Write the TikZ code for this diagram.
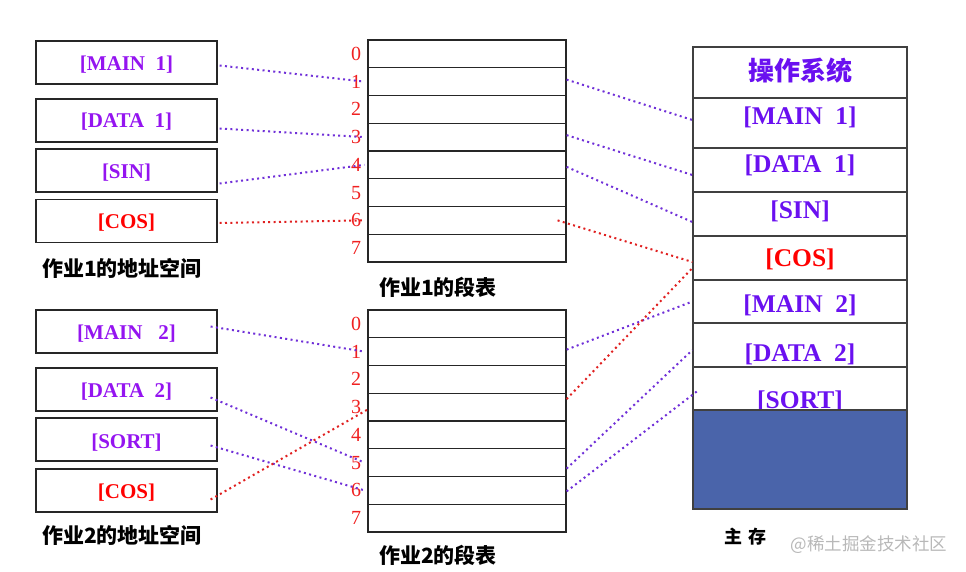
\documentclass[tikz,border=0pt]{standalone}
\usepackage{fontspec}
\setmainfont{Liberation Serif}
\newfontfamily\cjk{Noto Sans CJK SC}
\usetikzlibrary{calc}
\definecolor{lpurple}{HTML}{9414F0}
\definecolor{mpurple}{HTML}{6A10F0}
\definecolor{linep}{HTML}{7030D8}
\definecolor{liner}{HTML}{E02020}
\definecolor{numred}{HTML}{F02020}
\definecolor{memblue}{HTML}{4A64AA}
\definecolor{wmgray}{HTML}{B8B8B8}
\tikzset{
  asbox/.style={draw=black!85, line width=1.2pt, minimum width=181pt, minimum height=43pt, inner sep=0pt},
  astext/.style={font=\bfseries\fontsize{21}{22}\selectfont, text=lpurple, inner sep=0pt},
  cell/.style={draw=black!85, line width=1.2pt, minimum width=198pt, minimum height=27.75pt, inner sep=0pt},
  num/.style={font=\fontsize{20}{20}\selectfont, text=numred, inner sep=0pt},
  mem/.style={draw=black!75, line width=1.2pt, minimum width=214pt, inner sep=0pt},
  memtext/.style={font=\bfseries\fontsize{25.5}{26}\selectfont, text=mpurple, inner sep=0pt},
  lab/.style={font=\cjk\bfseries\fontsize{21}{22}\selectfont, text=black, inner sep=0pt},
  pl/.style={draw=linep, line width=2pt, dash pattern=on 2pt off 3.4pt},
  rl/.style={draw=liner, line width=2pt, dash pattern=on 2pt off 3.4pt},
}
\begin{document}
\begin{tikzpicture}[x=1pt,y=-1pt]
\useasboundingbox (0,0) rectangle (966,572);
% job 1 address space
\node[asbox] (a1m) at (126.5,62.5) {};
\node[asbox] (a1d) at (126.5,120.5) {};
\node[asbox] (a1s) at (126.5,170.5) {};
\node[asbox] (a1c) at (126.5,221) {};
\node[astext] (a1mt) at (126.5,65) {[MAIN\ \ 1]};
\node[astext] (a1dt) at (126.5,122) {[DATA\ \ 1]};
\node[astext] (a1st) at (126.5,173) {[SIN]};
\node[astext, text=red] (a1ct) at (126.5,223) {[COS]};
\node[lab] (l1) at (122,268) {作业1的地址空间};
% job 2 address space
\node[asbox] (a2m) at (126.5,331.5) {};
\node[asbox] (a2d) at (126.5,389.5) {};
\node[asbox] (a2s) at (126.5,439.5) {};
\node[asbox] (a2c) at (126.5,490.5) {};
\node[astext] (a2mt) at (126.5,334) {[MAIN\ \ \ 2]};
\node[astext] (a2dt) at (126.5,392) {[DATA\ \ 2]};
\node[astext] (a2st) at (126.5,443) {[SORT]};
\node[astext, text=red] (a2ct) at (126.5,493) {[COS]};
\node[lab] (l2) at (122,535) {作业2的地址空间};
% segment tables
\foreach \i in {0,...,7} {
  \node[cell] (t1r\i) at (467,{40+13.875+27.75*\i}) {};
  \node[num] (n1\i) at (356,{40+13.875+27.75*\i}) {\i};
  \node[cell] (t2r\i) at (467,{310+13.875+27.75*\i}) {};
  \node[num] (n2\i) at (356,{310+13.875+27.75*\i}) {\i};
}
\node[lab] (l3) at (438,287) {作业1的段表};
\node[lab] (l4) at (438,555) {作业2的段表};
% main memory
\node[mem, minimum height=51pt] (mos) at (800,72.5) {};
\node[mem, minimum height=50pt] (mm1) at (800,123) {};
\node[mem, minimum height=44pt] (md1) at (800,170) {};
\node[mem, minimum height=44pt] (ms) at (800,214) {};
\node[mem, minimum height=44pt] (mc) at (800,258) {};
\node[mem, minimum height=43pt] (mm2) at (800,301.5) {};
\node[mem, minimum height=44pt] (md2) at (800,345) {};
\node[mem, minimum height=43pt] (mso) at (800,388.5) {};
\node[memtext, font=\cjk\bfseries\fontsize{26}{26}\selectfont] (most) at (800,71) {操作系统};
\node[memtext] (mm1t) at (800,117.5) {[MAIN\ \ 1]};
\node[memtext] (md1t) at (800,165.5) {[DATA\ \ 1]};
\node[memtext] (mst) at (800,211) {[SIN]};
\node[memtext, text=red] (mct) at (800,259.5) {[COS]};
\node[memtext] (mm2t) at (800,305.5) {[MAIN\ \ 2]};
\node[memtext] (md2t) at (800,354) {[DATA\ \ 2]};
\node[memtext] (msot) at (800,401) {[SORT]};
\node[mem, minimum height=99pt, fill=memblue] (mfree) at (800,459.5) {};
\node[font=\cjk\bfseries\fontsize{18}{18}\selectfont, inner sep=0pt] (l5) at (745,537) {主\,\,存};
\node[font=\cjk\fontsize{17.5}{18}\selectfont, text=wmgray, inner sep=0pt] (wm) at (869,545) {@稀土掘金技术社区};
% job 1 connectors
\draw[pl] ($(a1m.east)+(2,3)$) -- ($(t1r1.west)+(-3,0)$);
\draw[pl] ($(a1d.east)+(2,8)$) -- ($(t1r3.west)+(-3,0)$);
\draw[pl] ($(a1s.east)+(2,13)$) -- ($(t1r4.west)+(-3,0)$);
\draw[rl] ($(a1c.east)+(2,2)$) -- ($(t1r6.west)+(-3,0)$);
\draw[pl] ($(t1r1.east)+(0,-2)$) -- ($(mm1.west)+(0,-3)$);
\draw[pl] ($(t1r3.east)+(0,-2)$) -- ($(md1.west)+(0,5)$);
\draw[pl] ($(t1r4.east)+(0,2)$) -- ($(ms.west)+(0,8)$);
\draw[rl] ($(t1r6.east)+(-9,0)$) -- ($(mc.west)+(0,4)$);
% job 2 connectors
\draw[pl] ($(a2m.east)+(-7,-5)$) -- ($(t2r1.west)+(-3,0)$);
\draw[pl] ($(a2d.east)+(-7,8)$) -- ($(t2r5.west)+(-3,0)$);
\draw[pl] ($(a2s.east)+(-7,6)$) -- ($(t2r6.west)+(-3,0)$);
\draw[rl] ($(a2c.east)+(-7,9)$) -- ($(t2r3.north west)+(0,17)$);
\draw[pl] ($(t2r1.east)+(0,-2)$) -- ($(mm2.west)+(0,0)$);
\draw[rl] ($(t2r3.east)+(0,-8)$) -- ($(mc.west)+(0,10)$);
\draw[pl] ($(t2r5.east)+(0,6)$) -- ($(md2.west)+(0,5)$);
\draw[pl] ($(t2r6.east)+(0,1)$) -- ($(mso.west)+(7,1)$);
\end{tikzpicture}
\end{document}
